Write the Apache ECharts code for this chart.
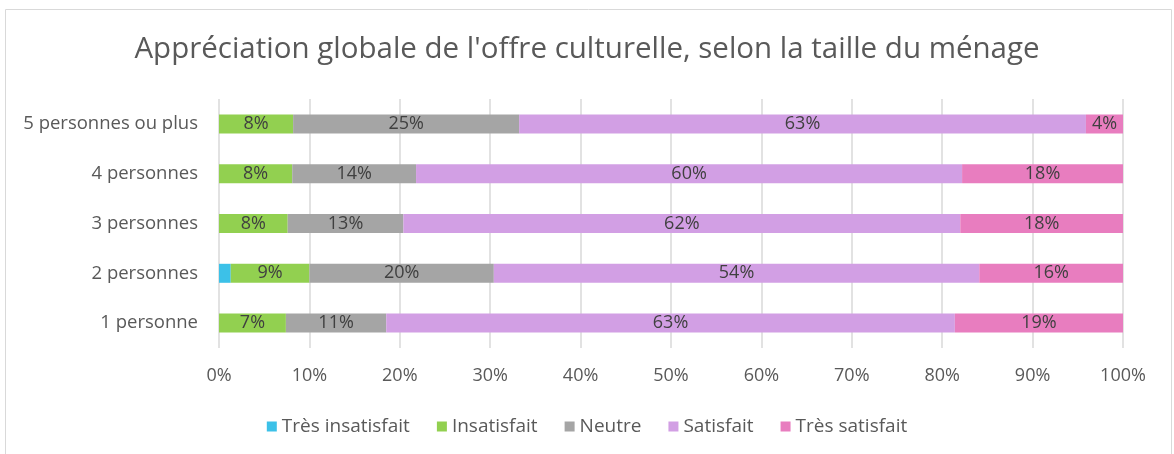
<!DOCTYPE html>
<html lang="fr">

<head>
    <meta charset="UTF-8">
    <title>Appréciation globale</title>
    <style>
        html, body { margin: 0; padding: 0; background: #fff; }
        #chart { width: 1174px; height: 454px; }
    </style>
    <script src="https://cdn.jsdelivr.net/npm/echarts@6/dist/echarts.min.js"></script>
</head>

<body>
    <div id="chart"></div>
    <script>
        // categories from bottom to top
        var categories = ['1 personne', '2 personnes', '3 personnes', '4 personnes', '5 personnes ou plus'];
        var tresInsatisfait = [0, 1.3, 0, 0, 0];
        var insatisfait = [7.4, 8.7, 7.6, 8.1, 8.2];
        var neutre = [11.1, 20.4, 12.8, 13.7, 25.0];
        var satisfait = [62.9, 53.7, 61.6, 60.4, 62.7];
        var tresSatisfait = [18.6, 15.9, 18.0, 17.8, 4.1];
        var xTicks = [0, 10, 20, 30, 40, 50, 60, 70, 80, 90, 100];

        var font = '"Open Sans", sans-serif';

        function mkSeries(name, data, color) {
            return {
                name: name,
                type: 'bar',
                stack: 'total',
                barWidth: 19,
                itemStyle: { color: color },
                label: {
                    show: true,
                    position: 'inside',
                    color: '#404040',
                    fontFamily: font,
                    fontSize: 18,
                    formatter: function (p) {
                        return p.value < 2 ? '' : Math.round(p.value) + '%';
                    }
                },
                data: data
            };
        }

        echarts.init(document.getElementById('chart')).setOption({
            animation: false,
            graphic: [{
                type: 'rect',
                shape: { x: 5.5, y: 9.5, width: 1166, height: 470 },
                style: { fill: 'none', stroke: '#d9d9d9', lineWidth: 1 }
            }],
            title: {
                text: "Appréciation globale de l'offre culturelle, selon la taille du ménage",
                left: 'center',
                top: 30,
                textStyle: {
                    color: '#595959',
                    fontFamily: font,
                    fontSize: 29.5,
                    fontWeight: 'normal'
                }
            },
            legend: {
                top: 412,
                left: 'center',
                itemWidth: 10,
                itemHeight: 10,
                itemGap: 27,
                icon: 'rect',
                textStyle: { color: '#595959', fontFamily: font, fontSize: 19 },
                data: ['Très insatisfait', 'Insatisfait', 'Neutre', 'Satisfait', 'Très satisfait']
            },
            grid: {
                left: 219,
                right: 51,
                top: 99,
                bottom: 106
            },
            xAxis: {
                type: 'value',
                min: 0,
                max: 100,
                interval: 10,
                axisLine: { show: false },
                axisTick: { show: false },
                axisLabel: {
                    color: '#595959',
                    fontFamily: font,
                    fontSize: 18,
                    margin: 19,
                    formatter: function (v) {
                        return xTicks.indexOf(v) >= 0 ? v + '%' : '';
                    }
                },
                splitLine: { show: true, lineStyle: { color: '#d9d9d9', width: 1.5 } }
            },
            yAxis: {
                type: 'category',
                data: categories,
                axisLine: { show: false },
                axisTick: { show: false },
                axisLabel: {
                    color: '#595959',
                    fontFamily: font,
                    fontSize: 18.5,
                    margin: 21
                }
            },
            series: [
                mkSeries('Très insatisfait', tresInsatisfait, '#3cc1e8'),
                mkSeries('Insatisfait', insatisfait, '#92d050'),
                mkSeries('Neutre', neutre, '#a5a5a5'),
                mkSeries('Satisfait', satisfait, '#d29fe4'),
                mkSeries('Très satisfait', tresSatisfait, '#e87dbf')
            ]
        });
    </script>
</body>

</html>
